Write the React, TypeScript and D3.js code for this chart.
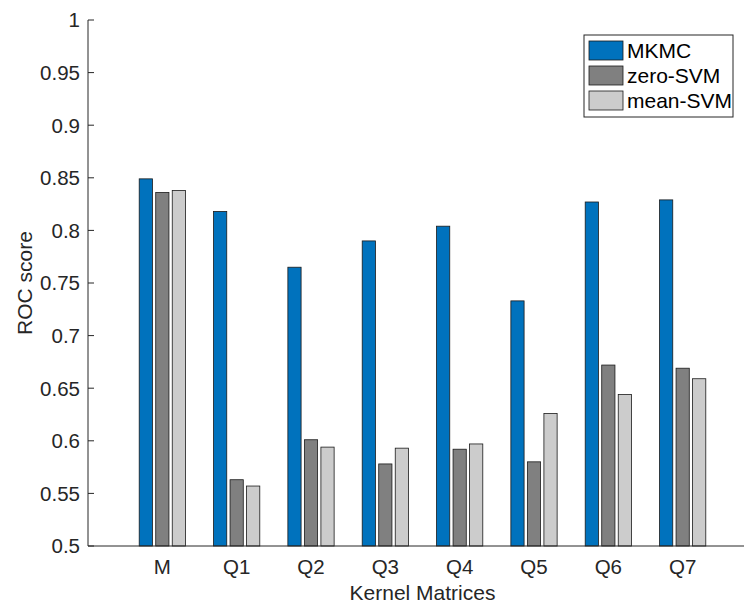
import React from "react";
import * as d3 from "d3";

const categories = ["M", "Q1", "Q2", "Q3", "Q4", "Q5", "Q6", "Q7"];
const seriesNames = ["MKMC", "zero-SVM", "mean-SVM"];
const mkmc = [0.849, 0.818, 0.765, 0.79, 0.804, 0.733, 0.827, 0.829];
const zeroSvm = [0.836, 0.563, 0.601, 0.578, 0.592, 0.58, 0.672, 0.669];
const meanSvm = [0.838, 0.557, 0.594, 0.593, 0.597, 0.626, 0.644, 0.659];
const yTicks = [0.5, 0.55, 0.6, 0.65, 0.7, 0.75, 0.8, 0.85, 0.9, 0.95, 1];
const colors = ["#0072BD", "#808080", "#CCCCCC"];

const W = 744;
const H = 606;
const left = 88;
const top = 20;
const bottom = 546;
const rightFull = 757;
const axisColor = "#262626";
const font = "'Liberation Sans', Arial, Helvetica, sans-serif";

export default function App() {
  const series = [mkmc, zeroSvm, meanSvm];
  const x = d3.scaleLinear().domain([0, categories.length + 1]).range([left, rightFull]);
  const y = d3.scaleLinear().domain([0.5, 1]).range([bottom, top]);
  const unit = x(1) - x(0);
  const groupW = Math.min(0.8, 3 / (3 + 1.5));
  const pitch = groupW / 3;
  const barW = pitch * 0.8 * unit;

  return (
    <div style={{ position: "absolute", left: 0, top: 0 }}>
      <svg width={W} height={H} style={{ display: "block", background: "#fff" }} fontFamily={font}>
        <rect x={0} y={0} width={W} height={H} fill="#fff" />
        {categories.map((c, i) =>
          series.map((s, k) => {
            const cx = x(i + 1 + (k - 1) * pitch);
            return (
              <rect
                key={c + k}
                x={cx - barW / 2}
                y={y(s[i])}
                width={barW}
                height={y(0.5) - y(s[i])}
                fill={colors[k]}
                stroke="#1a1a1a"
                strokeWidth={0.8}
              />
            );
          })
        )}
        {/* y axis */}
        <line x1={left} x2={left} y1={top} y2={bottom} stroke={axisColor} strokeWidth={1} />
        {yTicks.map((t) => (
          <g key={t}>
            <line x1={left} x2={left + 6} y1={y(t)} y2={y(t)} stroke={axisColor} strokeWidth={1} />
            <text x={left - 8} y={y(t)} dy="0.36em" textAnchor="end" fontSize={20.5} fill={axisColor}>
              {d3.format("")(t)}
            </text>
          </g>
        ))}
        {/* x axis */}
        <line x1={left} x2={rightFull} y1={bottom} y2={bottom} stroke={axisColor} strokeWidth={1} />
        {categories.map((c, i) => (
          <text key={c} x={x(i + 1)} y={574} textAnchor="middle" fontSize={20.5} fill={axisColor}>
            {c}
          </text>
        ))}
        <text x={(left + rightFull) / 2} y={600} textAnchor="middle" fontSize={21} fill={axisColor}>
          Kernel Matrices
        </text>
        <text
          transform={`translate(32,${(top + bottom) / 2}) rotate(-90)`}
          textAnchor="middle"
          fontSize={21}
          fill={axisColor}
        >
          ROC score
        </text>
        {/* legend */}
        <rect x={584} y={35} width={149} height={82} fill="#fff" stroke={axisColor} strokeWidth={1} />
        {seriesNames.map((n, k) => (
          <g key={n}>
            <rect x={589} y={41 + k * 25} width={34} height={19} fill={colors[k]} stroke="#1a1a1a" strokeWidth={0.8} />
            <text x={627} y={50.5 + k * 25} dy="0.36em" fontSize={21} fill="#000">
              {n}
            </text>
          </g>
        ))}
      </svg>
    </div>
  );
}
